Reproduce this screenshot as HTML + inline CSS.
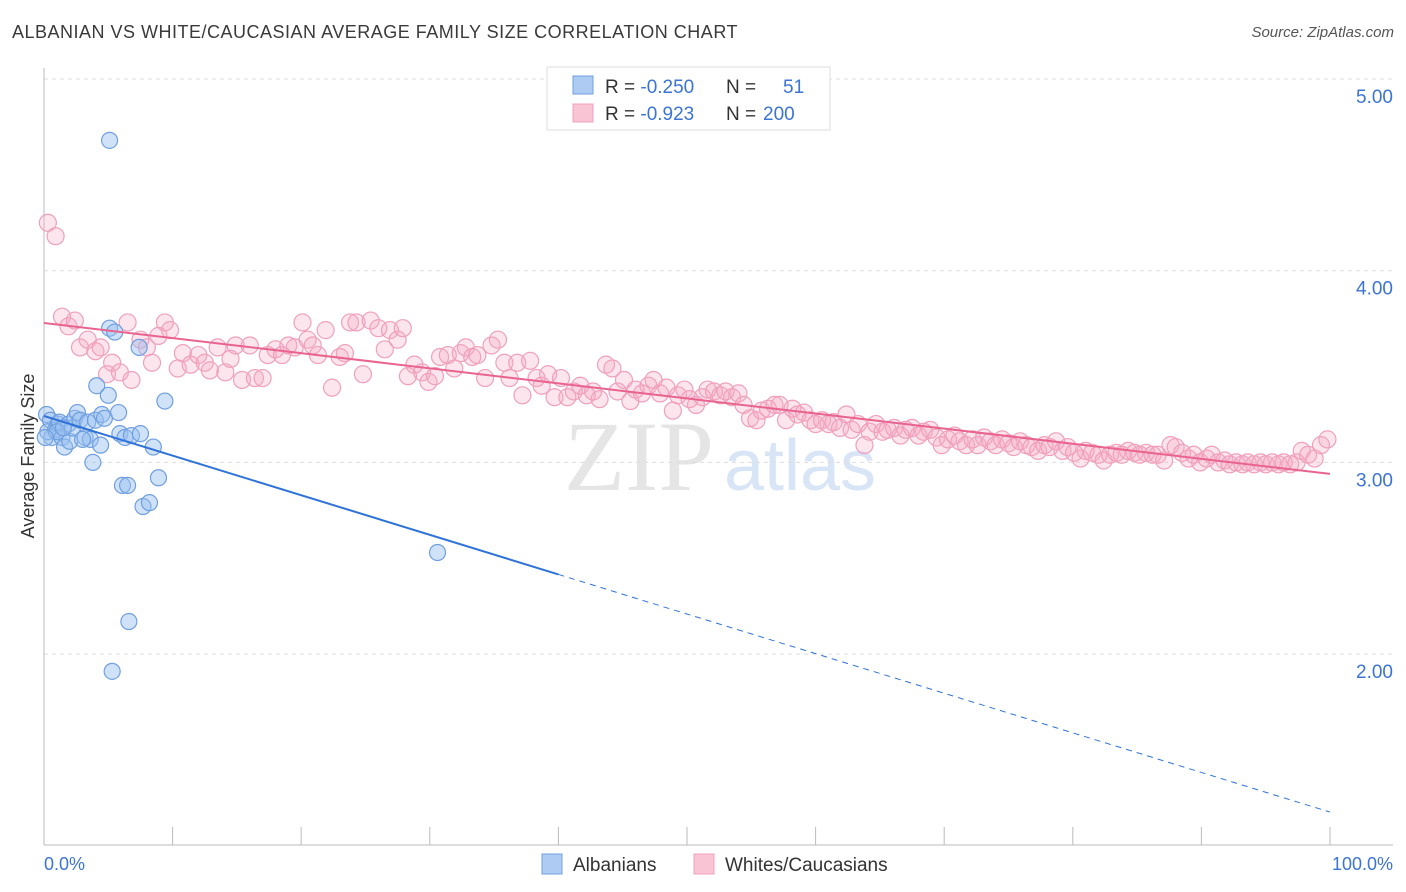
<!DOCTYPE html>
<html><head><meta charset="utf-8">
<style>
body{margin:0;width:1406px;height:892px;background:#fff;font-family:"Liberation Sans",sans-serif;overflow:hidden;position:relative}
.t{position:absolute}
</style></head><body>
<div class="t" style="left:12px;top:22px;font-size:18px;color:#3a3a3a;letter-spacing:0.5px">ALBANIAN VS WHITE/CAUCASIAN AVERAGE FAMILY SIZE CORRELATION CHART</div>
<div class="t" style="right:12px;top:24px;font-size:15px;color:#555;font-style:italic">Source: ZipAtlas.com</div>
<svg id="c" width="1406" height="892" style="position:absolute;left:0;top:0">
<text x="720" y="490" text-anchor="middle" font-family="Liberation Serif,serif" font-size="100" fill="#e5e5e5">ZIP<tspan font-family="Liberation Sans,sans-serif" font-size="72" fill="#d8e5f6" dx="10">atlas</tspan></text>
<g id="grid"></g><g id="pts"></g><g id="lines"></g>
<text transform="translate(34,456) rotate(-90)" text-anchor="middle" font-size="18" fill="#333">Average Family Size</text>
<text x="44" y="870" font-size="18" fill="#3b74d4">0.0%</text>
<text x="1393" y="870" text-anchor="end" font-size="18" fill="#3b74d4">100.0%</text>
<g>
<rect x="547" y="67" width="283" height="63" fill="#fff" stroke="#ddd"/>
<rect x="573" y="76" width="20" height="18" fill="#aecbf3" stroke="#6fa0e0"/>
<rect x="573" y="104" width="20" height="18" fill="#f9c4d4" stroke="#f0a0bc"/>
<text x="605" y="93" font-size="19" fill="#333">R = <tspan fill="#3b74d4">-0.250</tspan><tspan x="726">N = </tspan><tspan x="783" fill="#3b74d4">51</tspan></text>
<text x="605" y="120" font-size="19" fill="#333">R = <tspan fill="#3b74d4">-0.923</tspan><tspan x="726">N = </tspan><tspan x="763" fill="#3b74d4">200</tspan></text>
</g>
<g>
<rect x="542" y="854" width="20" height="20" fill="#aecbf3" stroke="#6fa0e0"/>
<text x="573" y="871" font-size="19" fill="#333">Albanians</text>
<rect x="694" y="854" width="20" height="20" fill="#f9c4d4" stroke="#f0a0bc"/>
<text x="725" y="871" font-size="19" fill="#333">Whites/Caucasians</text>
</g>
</svg>
<script>
const yTicks=[2,3,4,5];
const yTickLabels=["2.00","3.00","4.00","5.00"];
const xTicks=[0,10,20,30,40,50,60,70,80,90,100];
const blueX=[0.2,0.5,0.6,0.3,0.9,1.1,1.2,1.4,1.6,1.9,2.0,2.2,2.4,2.6,2.8,3.2,3.4,3.6,3.8,4.0,4.1,4.4,4.5,4.7,5.0,5.1,5.3,5.5,5.8,5.9,6.1,6.3,6.5,6.6,6.8,7.4,7.5,7.7,8.2,8.5,8.9,9.4,30.6,5.1,1.0,1.5,3.0,0.1];
const blueY=[3.25,3.22,3.13,3.16,3.17,3.20,3.21,3.13,3.08,3.20,3.11,3.18,3.23,3.26,3.22,3.13,3.21,3.12,3.00,3.22,3.40,3.09,3.25,3.23,3.35,3.70,1.91,3.68,3.26,3.15,2.88,3.13,2.88,2.17,3.14,3.60,3.15,2.77,2.79,3.08,2.92,3.32,2.53,4.68,3.16,3.18,3.12,3.13];
const pinkX=[0.3,0.9,1.4,1.9,2.4,2.8,3.4,4.0,4.4,4.9,5.3,5.9,6.5,6.8,7.5,8.0,8.4,8.9,9.4,9.8,10.4,10.8,11.4,12.0,12.5,12.9,13.5,14.1,14.5,14.9,15.4,16.0,16.4,17.0,17.4,18.0,18.5,19.0,19.5,20.1,20.5,20.9,21.3,21.9,22.4,23.0,23.4,23.8,24.3,24.8,25.4,26.0,26.5,26.9,27.5,27.9,28.3,28.8,29.4,29.9,30.4,30.8,31.4,31.9,32.4,32.8,33.3,33.7,34.3,34.8,35.3,35.8,36.2,36.8,37.2,37.8,38.3,38.7,39.2,39.7,40.2,40.7,41.2,41.7,42.2,42.7,43.2,43.7,44.2,44.6,45.1,45.6,46.0,46.5,47.0,47.4,47.9,48.4,48.9,49.3,49.8,50.2,50.7,51.2,51.6,52.1,52.6,53.0,53.5,54.0,54.4,54.9,55.4,55.8,56.3,56.8,57.2,57.7,58.2,58.6,59.1,59.6,60.0,60.5,61.0,61.4,61.9,62.4,62.8,63.3,63.8,64.2,64.7,65.2,65.6,66.1,66.6,67.0,67.5,68.0,68.4,68.9,69.4,69.8,70.3,70.8,71.2,71.7,72.2,72.6,73.1,73.6,74.0,74.5,75.0,75.4,75.9,76.4,76.8,77.3,77.8,78.2,78.7,79.2,79.6,80.1,80.6,81.0,81.5,82.0,82.4,82.9,83.4,83.8,84.3,84.8,85.2,85.7,86.2,86.6,87.1,87.6,88.0,88.5,89.0,89.4,89.9,90.4,90.8,91.3,91.8,92.2,92.7,93.2,93.6,94.1,94.6,95.0,95.5,96.0,96.4,96.9,97.4,97.8,98.3,98.8,99.3,99.8];
const pinkY=[4.25,4.18,3.76,3.71,3.74,3.60,3.64,3.58,3.60,3.46,3.52,3.47,3.73,3.43,3.64,3.60,3.52,3.66,3.73,3.69,3.49,3.57,3.51,3.56,3.52,3.48,3.60,3.47,3.54,3.61,3.43,3.61,3.44,3.44,3.56,3.59,3.56,3.61,3.60,3.73,3.64,3.61,3.56,3.69,3.39,3.55,3.57,3.73,3.73,3.46,3.74,3.70,3.59,3.69,3.64,3.70,3.45,3.51,3.47,3.42,3.45,3.55,3.56,3.49,3.57,3.60,3.55,3.56,3.44,3.61,3.64,3.52,3.44,3.52,3.35,3.53,3.44,3.40,3.46,3.34,3.44,3.34,3.37,3.40,3.35,3.37,3.33,3.51,3.49,3.37,3.43,3.32,3.38,3.36,3.40,3.43,3.36,3.39,3.27,3.35,3.38,3.33,3.30,3.34,3.38,3.37,3.35,3.37,3.34,3.36,3.30,3.23,3.22,3.27,3.28,3.30,3.30,3.22,3.28,3.25,3.26,3.22,3.20,3.22,3.20,3.21,3.18,3.25,3.17,3.20,3.09,3.16,3.20,3.16,3.17,3.18,3.14,3.17,3.18,3.14,3.16,3.17,3.13,3.09,3.12,3.14,3.11,3.09,3.12,3.09,3.13,3.11,3.09,3.12,3.10,3.08,3.11,3.09,3.08,3.06,3.09,3.08,3.11,3.06,3.08,3.05,3.02,3.06,3.05,3.04,3.01,3.04,3.05,3.04,3.06,3.05,3.04,3.05,3.04,3.04,3.01,3.09,3.08,3.05,3.02,3.04,3.00,3.02,3.04,3.00,3.01,2.99,3.00,2.99,3.00,2.99,3.00,2.99,3.00,2.99,3.00,2.99,3.00,3.06,3.04,3.02,3.09,3.12];
const blueFit=[3.242,1.176];
const pinkFit=[3.727,2.94];
const NS="http://www.w3.org/2000/svg";
const X0=44,X1=1330,YB=845;
function sx(v){return X0+(X1-X0)*v/100;}
function sy(v){return 79+(5-v)*191.7;}
function mk(tag,attrs,parent){const e=document.createElementNS(NS,tag);for(const k in attrs)e.setAttribute(k,attrs[k]);parent.appendChild(e);return e;}
const grid=document.getElementById('grid');
yTicks.forEach((t,i)=>{
 const l=mk('line',{x1:X0,x2:1393,y1:sy(t),y2:sy(t),stroke:'#ddd','stroke-dasharray':'4,4'},grid);
 
 
 const tx=mk('text',{x:1393,y:sy(t)+24,'text-anchor':'end','font-size':19,fill:'#3b74d4'},grid);
 tx.textContent=yTickLabels[i];
 
 
});
const ax=mk('line',{x1:X0,x2:1393,y1:YB,y2:YB,stroke:'#bbb'},grid);


const ay=mk('line',{x1:X0,x2:X0,y1:68,y2:YB,stroke:'#bbb'},grid);


xTicks.forEach(t=>{
 const l=mk('line',{x1:sx(t),x2:sx(t),y1:YB-18,y2:YB,stroke:'#bbb'},grid);
 
 
});
const pts=document.getElementById('pts');
pinkX.forEach((x,i)=>{
 const c=mk('circle',{cx:sx(x),cy:sy(pinkY[i]),r:8.5,fill:'rgba(245,170,195,0.3)',stroke:'#f0a0bc','stroke-width':1.2},pts);
 
 
});
blueX.forEach((x,i)=>{
 const c=mk('circle',{cx:sx(x),cy:sy(blueY[i]),r:8,fill:'rgba(150,190,240,0.45)',stroke:'#6f9fe0','stroke-width':1.2},pts);
 
 
});
const lines=document.getElementById('lines');
const bAt=p=>blueFit[0]+(blueFit[1]-blueFit[0])*p/100;
const b1=mk('line',{x1:sx(0),y1:sy(bAt(0)),x2:sx(40),y2:sy(bAt(40)),stroke:'#2f73d8','stroke-width':2},lines);


const b2=mk('line',{x1:sx(40),y1:sy(bAt(40)),x2:sx(100),y2:sy(bAt(100)),stroke:'#2f73d8','stroke-width':1,'stroke-dasharray':'6,5'},lines);


const p1=mk('line',{x1:sx(0),y1:sy(pinkFit[0]),x2:sx(100),y2:sy(pinkFit[1]),stroke:'#e8648f','stroke-width':2},lines);


</script>
</body></html>
